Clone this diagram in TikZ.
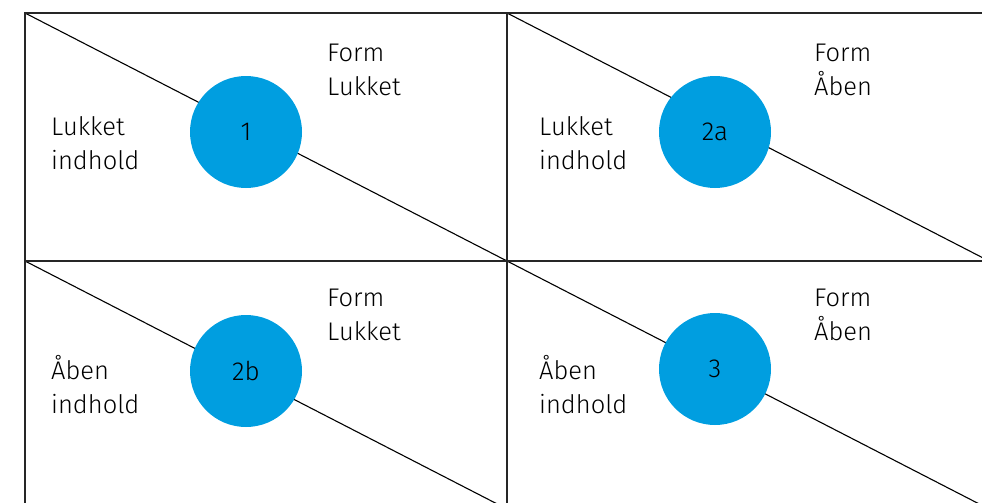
\documentclass[tikz,border=0pt]{standalone}
\usepackage{fontspec}
\setmainfont{Fira Sans}[UprightFont=* Light]
\definecolor{feltblaa}{RGB}{0,158,224}

\begin{document}
\begin{tikzpicture}[x=1pt,y=-1pt,
	ramme/.style={line width=1.8pt, draw=black!85},
	diag/.style={line width=1.1pt},
	felt/.style={circle, fill=feltblaa, minimum size=112pt, inner sep=0pt, font=\fontsize{26}{26}\selectfont},
	tekst/.style={anchor=north west, align=left, inner sep=0pt, font=\fontsize{25.5}{34}\selectfont}]
	\useasboundingbox (0,0) rectangle (982,503);
	\clip (0,0) rectangle (982,503);
	% hjoerner i gitteret
	\coordinate (a1) at (25,13);
	\coordinate (a2) at (507,13);
	\coordinate (a3) at (989,13);
	\coordinate (b1) at (25,261);
	\coordinate (b2) at (507,261);
	\coordinate (b3) at (989,261);
	\coordinate (c1) at (25,509);
	\coordinate (c2) at (507,509);
	\coordinate (c3) at (989,509);
	% diagonaler
	\draw[diag] (a1) -- (b2);
	\draw[diag] (a2) -- (b3);
	\draw[diag] (b1) -- (c2);
	\draw[diag] (b2) -- (c3);
	% rammen
	\draw[ramme] (a1) rectangle (c3);
	\draw[ramme] (a2) -- (c2);
	\draw[ramme] (b1) -- (b3);
	% felterne
	\node[felt] (f1) at (246,132) {1};
	\node[felt] (f2a) at (715,132) {2a};
	\node[felt] (f2b) at (246,371) {2b};
	\node[felt] (f3) at (715,369) {3};
	% tekster
	\node[tekst] (t1v) at (51,116) {Lukket\\indhold};
	\node[tekst] (t1h) at (327,44) {Form\\Lukket};
	\node[tekst] (t2av) at (539,116) {Lukket\\indhold};
	\node[tekst] (t2ah) at (814,44) {Form\\Åben};
	\node[tekst] (t2bv) at (51,355) {Åben\\indhold};
	\node[tekst] (t2bh) at (327,289) {Form\\Lukket};
	\node[tekst] (t3v) at (539,355) {Åben\\indhold};
	\node[tekst] (t3h) at (814,289) {Form\\Åben};
\end{tikzpicture}
\end{document}
